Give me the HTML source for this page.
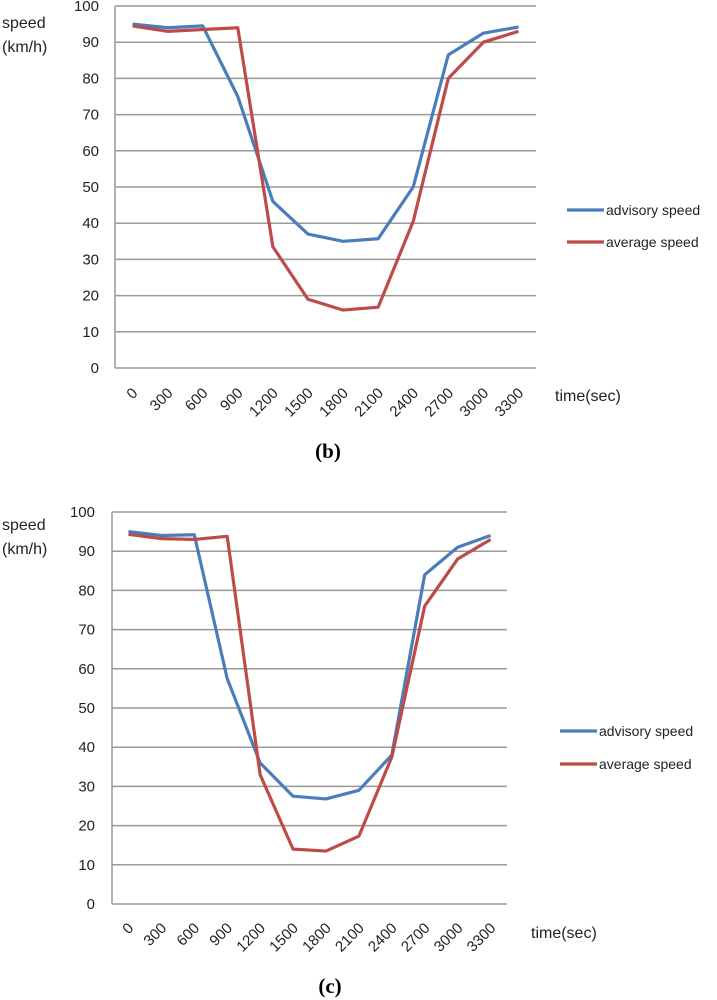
<!DOCTYPE html>
<html><head><meta charset="utf-8"><style>
html,body{margin:0;padding:0;background:#fff;}
svg{display:block;font-family:"Liberation Sans",sans-serif;}
</style></head><body>
<svg id="svg" width="717" height="1000" viewBox="0 0 717 1000"></svg>
<script>
const categories=[0,300,600,900,1200,1500,1800,2100,2400,2700,3000,3300];
const yTicks=[0,10,20,30,40,50,60,70,80,90,100];
const advisoryB=[95,94,94.5,75,46,37,35,35.7,50,86.5,92.5,94.2];
const averageB=[94.5,93,93.5,94,33.5,19,16,16.8,40.5,80,90,93];
const advisoryC=[95,94,94.2,57.5,36,27.5,26.8,29,38,84,91,94];
const averageC=[94.3,93.2,93,93.8,33,14,13.5,17.3,37.5,76,88,93];
const NS="http://www.w3.org/2000/svg";
const svg=document.getElementById('svg');
function mk(tag,attrs,parent){const e=document.createElementNS(NS,tag);for(const k in attrs)e.setAttribute(k,attrs[k]);(parent||svg).appendChild(e);return e;}
function chart(cfg,adv,avg,id){
  const g=mk('g',{});
  
  
  const L=cfg.left,R=cfg.right,T=cfg.top,B=cfg.bottom;
  const band=(R-L)/categories.length;
  const x=i=>L+band*(i+0.5);
  const y=v=>B-(B-T)*v/100;
  yTicks.forEach(t=>{
    const ln=mk('line',{x1:L,x2:R,y1:y(t),y2:y(t),stroke:'#999','stroke-width':1.5},g);
    
    
    const tx=mk('text',{x:cfg.tickX,y:y(t)+5,'text-anchor':'end','font-size':15,fill:'#222'},g);
    tx.textContent=t;
    
    
  });
  const ax=mk('line',{x1:L,x2:L,y1:T,y2:B,stroke:'#999','stroke-width':1.5},g);
  
  
  categories.forEach((c,i)=>{
    const tx=mk('text',{x:x(i)+6,y:cfg.labelY,'text-anchor':'end','font-size':15,fill:'#222',transform:`rotate(-45 ${x(i)+6} ${cfg.labelY})`},g);
    tx.textContent=c;
    
    
  });
  [[adv,'#4a7ebb','advisory-speed-line'],[avg,'#be4b48','average-speed-line']].forEach(([d,col,nm])=>{
    const p=mk('polyline',{points:d.map((v,i)=>x(i)+','+y(v)).join(' '),fill:'none',stroke:col,'stroke-width':3.2,'stroke-linejoin':'round'},g);
    
    
  });
  [['advisory speed','#4a7ebb',cfg.legY1],['average speed','#be4b48',cfg.legY2]].forEach(([lab,col,ly])=>{
    const ln=mk('line',{x1:cfg.legX,x2:cfg.legX+37,y1:ly,y2:ly,stroke:col,'stroke-width':3.2},g);
    
    
    const tx=mk('text',{x:cfg.legX+39,y:ly+5,'font-size':14,fill:'#222'},g);
    tx.textContent=lab;
    
    
  });
  const s1=mk('text',{x:2,y:cfg.speedY,'font-size':16,fill:'#222'},g);s1.textContent='speed';
  
  
  const s2=mk('text',{x:2,y:cfg.speedY+24,'font-size':16,fill:'#222'},g);s2.textContent='(km/h)';
  
  
  const tt=mk('text',{x:cfg.timeX,y:cfg.timeY,'font-size':16,fill:'#222'},g);tt.textContent='time(sec)';
  
  
  const cap=mk('text',{x:cfg.capX,y:cfg.capY,'text-anchor':'middle','font-size':21,'font-weight':'bold','font-family':'Liberation Serif, serif',fill:'#000'},g);
  cap.textContent='('+id+')';
  
  
}
chart({left:115,right:536,top:6,bottom:368,tickX:99,labelY:394,legX:567,legY1:210,legY2:242,speedY:28,timeX:555,timeY:401,capX:328,capY:458},advisoryB,averageB,'b');
chart({left:112,right:507,top:512,bottom:904,tickX:95,labelY:929,legX:560,legY1:731,legY2:764,speedY:530,timeX:531,timeY:938,capX:330,capY:993},advisoryC,averageC,'c');
</script>
</body></html>
